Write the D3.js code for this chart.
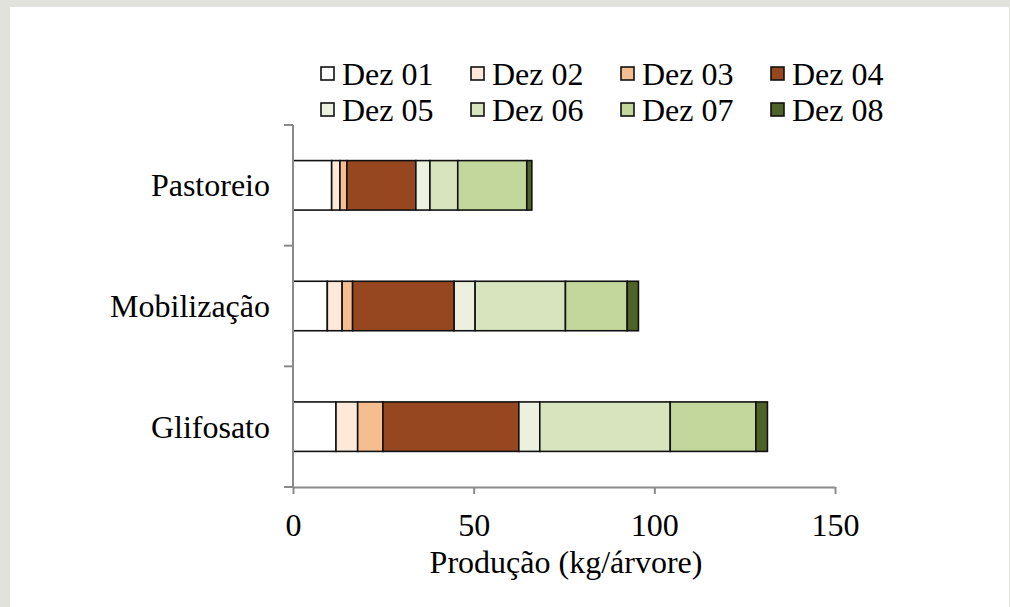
<!DOCTYPE html>
<html><head><meta charset="utf-8">
<script src="https://cdn.jsdelivr.net/npm/d3@7"></script>
<style>body{margin:0;background:#fff}svg{display:block}svg text{font-family:"Liberation Serif","Times New Roman",serif;}</style>
</head><body>
<script>
const categories = ["Pastoreio", "Mobilização", "Glifosato"];
const seriesNames = ["Dez 01","Dez 02","Dez 03","Dez 04","Dez 05","Dez 06","Dez 07","Dez 08"];
const pastoreio   = [10.7, 2.3, 1.9, 19.1, 3.9, 7.7, 19.1, 1.4];
const mobilizacao = [9.5, 4.1, 2.9, 28.1, 5.8, 25.0, 17.1, 3.1];
const glifosato   = [11.9, 6.0, 7.0, 37.6, 5.8, 36.1, 23.7, 3.2];
const colors = ["#ffffff","#fde9d9","#f4be91","#974720","#ebf1de","#d7e4bd","#c3d69b","#4f6228"];
const xTicks = [0, 50, 100, 150];
const xTitle = "Produção (kg/árvore)";

const W = 1010, H = 607;
const svg = d3.select("body").append("svg").attr("width", W).attr("height", H);
const FS = 32;

// frame
svg.append("rect").attr("x",0).attr("y",0).attr("width",W).attr("height",7).attr("fill","#e1e2dc");
svg.append("rect").attr("x",0).attr("y",0).attr("width",10).attr("height",H).attr("fill","#e1e2dc");
svg.append("rect").attr("x",W-1).attr("y",0).attr("width",1).attr("height",H).attr("fill","#e1e2dc");

const x = d3.scaleLinear().domain([0,150]).range([293, 835]);
const y = d3.scaleBand().domain(categories).range([125, 487]).padding(0);

const rows = [pastoreio, mobilizacao, glifosato];
const table = categories.map((c,i) => {
  const o = {cat: c};
  seriesNames.forEach((s,j) => o[s] = rows[i][j]);
  return o;
});
const stacked = d3.stack().keys(seriesNames)(table);
const barH = y.bandwidth() * 0.41;

svg.append("g").selectAll("g").data(stacked).join("g")
  .attr("fill", (d,i) => colors[i])
  .selectAll("rect").data(d => d).join("rect")
  .attr("x", d => x(d[0]))
  .attr("width", d => x(d[1]) - x(d[0]))
  .attr("y", d => y(d.data.cat) + (y.bandwidth() - barH)/2)
  .attr("height", barH)
  .attr("stroke", "#111")
  .attr("stroke-width", 1.6);

// x axis
const xAxis = svg.append("g").attr("transform", "translate(0,487)")
  .call(d3.axisBottom(x).tickValues(xTicks).tickSize(7).tickPadding(19).tickSizeOuter(0));
xAxis.attr("font-family", null);
xAxis.select(".domain").attr("stroke","#8a8a8a").attr("stroke-width",2);
xAxis.selectAll(".tick line").attr("stroke","#8a8a8a").attr("stroke-width",2);
xAxis.selectAll("text").attr("font-size", FS).attr("fill","#000");

// y axis with ticks at band boundaries
const yLine = svg.append("g");
yLine.append("line").attr("x1",293).attr("x2",293).attr("y1",y.range()[0]).attr("y2",y.range()[1])
  .attr("stroke","#8a8a8a").attr("stroke-width",2);
const bounds = categories.map(c => y(c)).concat([y(categories[categories.length-1]) + y.bandwidth()]);
yLine.selectAll("line.t").data(bounds).join("line").attr("class","t")
  .attr("x1",284).attr("x2",293).attr("y1",d=>d).attr("y2",d=>d)
  .attr("stroke","#8a8a8a").attr("stroke-width",2);

svg.append("g").selectAll("text").data(categories).join("text")
  .attr("x", 270).attr("y", d => y(d) + y.bandwidth()/2 + 11)
  .attr("text-anchor","end").attr("font-size", FS).attr("fill","#000")
  .text(d => d);

svg.append("text").attr("x", (x(0)+x(150))/2 + 2).attr("y", 573)
  .attr("text-anchor","middle").attr("font-size", FS).attr("fill","#000")
  .text(xTitle);

// legend
const lg = svg.append("g").selectAll("g").data(seriesNames).join("g")
  .attr("transform", (d,i) => `translate(${321 + (i%4)*150},${i<4 ? 85 : 121})`);
lg.append("rect").attr("x",0).attr("y",-18).attr("width",13).attr("height",13)
  .attr("fill",(d,i)=>colors[i]).attr("stroke","#111").attr("stroke-width",1.6);
lg.append("text").attr("x",21).attr("y",0).attr("font-size", FS).attr("fill","#000")
  .text(d => d);
</script>
</body></html>
